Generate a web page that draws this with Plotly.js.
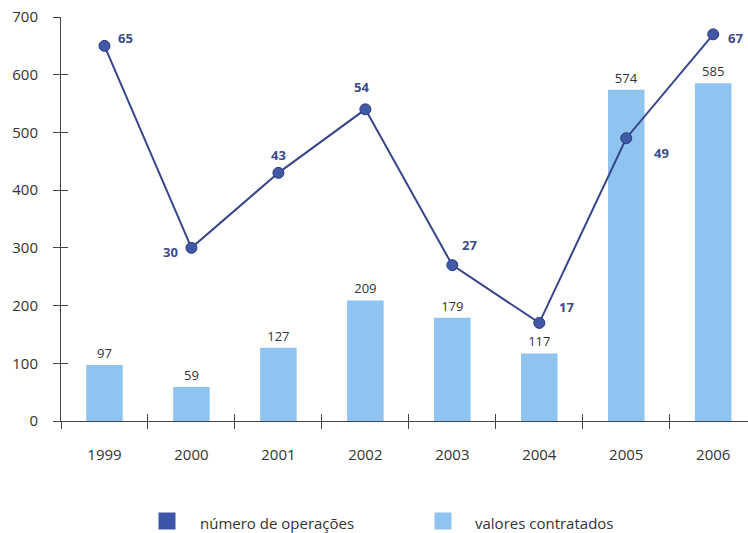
<!DOCTYPE html>
<html>
<head>
<meta charset="utf-8">
<script src="https://cdn.plot.ly/plotly-3.0.1.min.js"></script>
<style>html,body{margin:0;padding:0;background:#fff;}#chart{width:748px;height:533px;}</style>
</head>
<body>
<div id="chart"></div>
<script>
var years = ['1999','2000','2001','2002','2003','2004','2005','2006'];
var valores = [97, 59, 127, 209, 179, 117, 574, 585];
var operacoes = [65, 30, 43, 54, 27, 17, 49, 67];
var yTicks = [0, 100, 200, 300, 400, 500, 600, 700];
var legendNames = ['número de operações', 'valores contratados'];

var idx = years.map(function(_, i){ return i; });
var bounds = [-0.5].concat(idx.slice(0, -1).map(function(i){ return i + 0.5; }));

var barColor = '#8ec4ef';
var lineColor = '#38448c';
var markColor = '#4058a8';
var labelColor = '#3a4a8e';
var legendColors = ['#3c55a6', barColor];
var font = 'Open Sans, Liberation Sans, sans-serif';

var traces = [
  {type:'bar', x: idx, y: valores, name: legendNames[1], width:0.42,
   marker:{color: barColor}, text: valores.map(String), textposition:'outside',
   textfont:{family: font, size:13, color:'#333'}, cliponaxis:false, showlegend:false, hoverinfo:'y'},
  {type:'scatter', mode:'lines+markers', x: idx, y: operacoes, yaxis:'y2', name: legendNames[0],
   line:{color: lineColor, width:2}, marker:{size:11, color: markColor, line:{color:'#2c3a78', width:1}},
   showlegend:false, cliponaxis:false},
  {type:'scatter', x:[null], y:[null], xaxis:'x2', showlegend:false, hoverinfo:'skip'},
  {type:'scatter', x:[null], y:[null], xaxis:'x3', showlegend:false, hoverinfo:'skip'},
  {type:'scatter', x:[null], y:[null], yaxis:'y3', showlegend:false, hoverinfo:'skip'}
];

var offsets = [[21,8],[-21,-4],[0,18],[-4,22],[17,20],[27,16],[35,-15],[22,-4]];
var annotations = operacoes.map(function(v, i){
  return {x: i, y: v, xref:'x', yref:'y2', text: String(v), showarrow:false,
    xshift: offsets[i][0], yshift: offsets[i][1],
    font:{family: font, size:13, color: labelColor, weight:'bold'}};
});

// manual legend (pixel layout converted to paper coords)
var PL = 61, PW = 687, PB = 421, PH = 404;
function px(x){ return (x - PL) / PW; }
function py(y){ return (PB - y) / PH; }
var legSquareX = [167, 443], legTextX = [198, 473], legY = 521, sq = 8.5;
var shapes = [];
legendNames.forEach(function(n, i){
  shapes.push({type:'rect', xref:'paper', yref:'paper',
    x0: px(legSquareX[i] - sq), x1: px(legSquareX[i] + sq),
    y0: py(legY + sq), y1: py(legY - sq),
    fillcolor: legendColors[i], line:{width:0}});
  annotations.push({xref:'paper', yref:'paper', x: px(legTextX[i]), y: py(legY + 2),
    xanchor:'left', yanchor:'middle', text: n, showarrow:false,
    font:{family: font, size:15, color:'#333'}});
});

var xr = [-0.5, 7.4];
var layout = {
  width:748, height:533,
  margin:{l:61, r:0, t:17, b:112},
  paper_bgcolor:'#fff', plot_bgcolor:'#fff',
  font:{family: font, size:15, color:'#333'},
  xaxis:{range: xr, tickmode:'array', tickvals: idx, ticktext: years, ticks:'', ticklabelstandoff:20,
    showgrid:false, zeroline:false, showline:true, linecolor:'#444', linewidth:1,
    tickfont:{family: font, size:15, color:'#333'}},
  xaxis2:{range: xr, overlaying:'x', anchor:'y', tickmode:'array', tickvals: bounds, ticks:'outside',
    ticklen:7, tickcolor:'#444', showticklabels:false, showgrid:false, zeroline:false, showline:false},
  xaxis3:{range: xr, overlaying:'x', anchor:'y', tickmode:'array', tickvals: bounds, ticks:'inside',
    ticklen:7, tickcolor:'#444', showticklabels:false, showgrid:false, zeroline:false, showline:false},
  yaxis:{range:[0,700], tickmode:'array', tickvals: yTicks, ticks:'outside', ticklen:7, tickcolor:'#444',
    ticklabelstandoff:12, showgrid:false, zeroline:false, showline:true, linecolor:'#444', linewidth:1,
    tickfont:{family: font, size:15, color:'#333'}},
  yaxis2:{range:[0,70], overlaying:'y', side:'right', visible:false, showgrid:false, zeroline:false},
  yaxis3:{range:[0,700], overlaying:'y', anchor:'x', tickmode:'array', tickvals: yTicks, ticks:'inside',
    ticklen:7, tickcolor:'#444', showticklabels:false, showgrid:false, zeroline:false, showline:false},
  showlegend:false,
  shapes: shapes,
  annotations: annotations,
  bargap:0.5
};

Plotly.newPlot('chart', traces, layout, {displayModeBar:false, staticPlot:true});
</script>
</body>
</html>
